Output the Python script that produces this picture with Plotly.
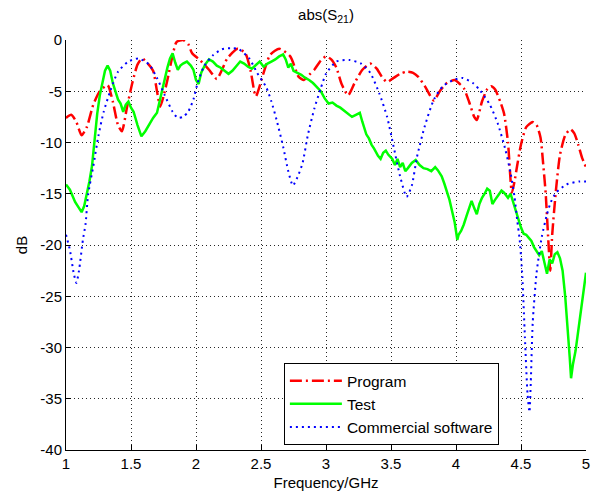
import plotly.graph_objects as go

# ---- data ----
prog_f = [1.00, 1.04, 1.08, 1.12, 1.16, 1.21, 1.26, 1.32, 1.36, 1.40, 1.43, 1.47, 1.51, 1.55,
          1.585, 1.63, 1.67, 1.70, 1.725, 1.75, 1.78, 1.82, 1.85, 1.90, 1.94, 1.97, 2.03, 2.10,
          2.16, 2.20, 2.24, 2.32, 2.38, 2.42, 2.46, 2.52, 2.57, 2.64, 2.725, 2.79, 2.83, 2.87,
          2.91, 2.96, 3.00, 3.04, 3.08, 3.12, 3.17, 3.22, 3.28, 3.34, 3.39, 3.43, 3.47, 3.52,
          3.57, 3.62, 3.67, 3.71, 3.76, 3.80, 3.83, 3.88, 3.93, 3.99, 4.03, 4.06, 4.10, 4.14,
          4.16, 4.20, 4.24, 4.27, 4.30, 4.34, 4.37, 4.40, 4.43, 4.45, 4.47, 4.50, 4.54, 4.59,
          4.62, 4.65, 4.67, 4.69, 4.71, 4.725, 4.74, 4.77, 4.80, 4.84, 4.88, 4.91, 4.94, 4.97, 5.00]
prog_db = [-7.6, -7.3, -8.0, -9.3, -8.5, -6.3, -5.0, -4.4, -6.0, -8.3, -8.9, -6.5, -4.2, -2.4,
           -1.8, -2.3, -3.0, -5.0, -6.5, -5.5, -3.9, -1.5, -0.2, 0.0, -0.4, -1.3, -1.95, -2.9,
           -3.8, -2.9, -1.8, -0.85, -1.3, -3.0, -5.5, -3.2, -1.45, -0.85, -1.6, -3.6, -3.9, -3.4,
           -2.9, -2.0, -1.6, -1.9, -2.7, -4.3, -5.4, -4.2, -2.9, -2.3, -2.8, -3.6, -4.1, -3.7,
           -3.3, -3.1, -3.2, -3.6, -4.5, -5.4, -5.9, -4.9, -4.2, -3.9, -4.3, -4.7, -6.0, -7.5,
           -7.8, -6.0, -4.8, -4.5, -4.8, -6.0, -7.2, -10.0, -14.9, -13.8, -12.3, -10.2, -8.5, -8.0,
           -8.3, -9.5, -12.0, -15.0, -19.5, -22.5, -19.0, -14.5, -11.2, -9.3, -8.7, -9.1, -10.2, -11.5, -12.4]

test_f = [1.00, 1.03, 1.07, 1.10, 1.12, 1.14, 1.16, 1.18, 1.20, 1.22, 1.24, 1.26, 1.28, 1.30,
          1.32, 1.34, 1.36, 1.38, 1.40, 1.42, 1.44, 1.46, 1.48, 1.50, 1.52, 1.55, 1.58, 1.61,
          1.64, 1.67, 1.70, 1.72, 1.74, 1.76, 1.78, 1.80, 1.82, 1.84, 1.86, 1.88, 1.90, 1.93,
          1.96, 1.98, 2.00, 2.02, 2.04, 2.07, 2.10, 2.13, 2.16, 2.19, 2.22, 2.25, 2.28, 2.31,
          2.34, 2.37, 2.40, 2.43, 2.46, 2.49, 2.52, 2.55, 2.58, 2.61, 2.64, 2.67, 2.69, 2.71,
          2.73, 2.75, 2.78, 2.81, 2.84, 2.87, 2.90, 2.93, 2.96, 2.99, 3.02, 3.05, 3.08, 3.11,
          3.14, 3.17, 3.20, 3.23, 3.26, 3.28, 3.31, 3.33, 3.35, 3.37, 3.40, 3.42, 3.44, 3.46,
          3.48, 3.51, 3.53, 3.55, 3.57, 3.59, 3.61, 3.63, 3.66, 3.69, 3.72, 3.75, 3.78, 3.81,
          3.84, 3.86, 3.89, 3.91, 3.93, 3.95, 3.97, 3.99, 4.01, 4.02, 4.04, 4.06, 4.08, 4.10,
          4.12, 4.14, 4.16, 4.18, 4.20, 4.22, 4.24, 4.26, 4.28, 4.30, 4.32, 4.35, 4.37, 4.40,
          4.42, 4.44, 4.46, 4.48, 4.50, 4.52, 4.54, 4.56, 4.58, 4.60, 4.62, 4.64, 4.66, 4.68,
          4.70, 4.72, 4.74, 4.76, 4.78, 4.80, 4.82, 4.84, 4.86, 4.875, 4.885, 4.90, 4.92, 4.94,
          4.96, 4.98, 5.00]
test_db = [-14.1, -14.6, -15.8, -16.4, -16.8, -16.2, -15.1, -13.8, -12.3, -9.5, -7.2, -5.4, -4.0, -3.0,
           -2.5, -3.0, -4.2, -5.1, -5.8, -6.2, -7.0, -6.3, -6.0, -6.6, -7.0, -8.3, -9.4, -8.9,
           -8.2, -7.6, -7.1, -6.0, -4.8, -3.6, -2.7, -1.8, -1.3, -2.2, -2.9, -2.5, -2.3, -2.1,
           -2.5, -2.9, -3.9, -4.3, -3.2, -2.4, -1.9, -2.1, -2.5, -2.7, -3.0, -3.3, -3.0, -2.5,
           -2.1, -2.3, -2.6, -2.8, -2.4, -2.1, -2.6, -2.3, -2.1, -1.9, -1.6, -1.4, -1.9, -2.7,
           -2.3, -3.0, -3.2, -3.4, -3.7, -3.9, -4.2, -4.6, -5.0, -5.7, -6.2, -6.1, -6.4, -6.6,
           -6.9, -7.2, -7.5, -7.3, -7.1, -8.0, -9.2, -9.6, -10.2, -10.6, -11.3, -11.6, -11.0, -10.8,
           -11.2, -11.6, -12.2, -11.6, -12.4, -12.0, -12.8, -12.5, -12.0, -11.7, -12.2, -12.5, -12.6, -12.8,
           -12.4, -12.7, -13.3, -14.0, -14.8, -15.6, -16.7, -17.8, -19.5, -19.0, -18.6, -18.0, -17.2, -16.5,
           -15.7, -16.4, -17.0, -16.0, -15.4, -15.0, -14.5, -14.7, -16.0, -15.6, -15.2, -14.7, -14.9, -15.4,
           -15.0, -15.8, -16.6, -17.6, -18.3, -18.9, -19.0, -19.3, -19.6, -20.2, -20.6, -21.0, -20.6, -21.8,
           -22.8, -21.4, -21.8, -20.9, -20.7, -21.3, -22.5, -25.0, -28.0, -31.0, -33.0, -31.6, -30.3, -28.5,
           -26.2, -24.6, -22.7]

comm_f = [1.00, 1.03, 1.06, 1.08, 1.10, 1.13, 1.15, 1.17, 1.21, 1.25, 1.29, 1.34, 1.40, 1.48,
          1.56, 1.64, 1.70, 1.76, 1.82, 1.86, 1.90, 1.94, 1.98, 2.01, 2.06, 2.13, 2.20, 2.27,
          2.33, 2.41, 2.47, 2.54, 2.58, 2.62, 2.67, 2.71, 2.745, 2.78, 2.82, 2.86, 2.91, 2.96,
          3.00, 3.08, 3.18, 3.27, 3.34, 3.41, 3.47, 3.52, 3.57, 3.62, 3.66, 3.70, 3.76, 3.83,
          3.90, 3.98, 4.05, 4.13, 4.19, 4.26, 4.32, 4.38, 4.42, 4.45, 4.47, 4.49, 4.51, 4.53,
          4.55, 4.565, 4.575, 4.59, 4.62, 4.66, 4.70, 4.73, 4.77, 4.85, 4.95, 5.00]
comm_db = [-19.0, -20.5, -22.8, -23.7, -22.5, -19.5, -18.0, -15.1, -12.3, -9.3, -7.0, -5.0, -3.1, -2.1,
           -1.8, -2.4, -3.7, -5.4, -7.0, -7.6, -7.5, -7.0, -5.8, -4.3, -2.6, -1.5, -0.9, -0.8,
           -0.9, -1.8, -3.2, -4.6, -6.0, -7.8, -10.4, -12.8, -14.2, -13.4, -12.0, -9.3, -6.7, -4.7,
           -3.3, -2.1, -1.95, -2.3, -3.2, -5.2, -7.5, -10.4, -13.3, -15.3, -14.2, -11.4, -8.4, -5.8,
           -4.5, -3.9, -3.7, -4.2, -5.0, -6.3, -8.1, -10.7, -13.0, -15.3, -17.5, -19.5, -23.0, -29.0,
           -34.5, -36.3, -33.5, -27.6, -22.7, -19.2, -17.0, -15.8, -14.9, -14.1, -13.8, -13.8]

series_names = ["Program", "Test", "Commercial software"]
x_ticks = [1, 1.5, 2, 2.5, 3, 3.5, 4, 4.5, 5]
y_ticks = [-40, -35, -30, -25, -20, -15, -10, -5, 0]

FONT = "Liberation Sans, Arial, sans-serif"

fig = go.Figure()
fig.add_trace(go.Scatter(x=prog_f, y=prog_db, mode="lines", name=series_names[0],
                         line=dict(color="#FF0000", width=2.5, dash="12px,4px,2px,4px",
                                   shape="spline", smoothing=0.6)))
fig.add_trace(go.Scatter(x=test_f, y=test_db, mode="lines", name=series_names[1],
                         line=dict(color="#00FF00", width=2.5)))
fig.add_trace(go.Scatter(x=comm_f, y=comm_db, mode="lines", name=series_names[2],
                         line=dict(color="#0000FF", width=2, dash="2px,4px",
                                   shape="spline", smoothing=0.6)))

axis_common = dict(
    showline=True, linecolor="black", linewidth=1, mirror=False,
    ticks="inside", ticklen=5, tickcolor="black", tickwidth=1,
    showgrid=True, gridcolor="rgba(0,0,0,0.85)", gridwidth=1, griddash="1px,3px",
    zeroline=False, tickfont=dict(family=FONT, size=15, color="black"),
    automargin=False,
)

fig.update_layout(
    width=598, height=491, autosize=False,
    margin=dict(l=66, r=12, t=40, b=41),
    paper_bgcolor="white", plot_bgcolor="white",
    font=dict(family=FONT, size=15, color="black"),
    title=dict(text="abs(S<sub>21</sub>)", x=0.5, xref="paper", y=1 - 15 / 491,
               yref="container", xanchor="center", yanchor="middle",
               font=dict(family=FONT, size=15, color="black")),
    xaxis=dict(range=[1, 5], tickvals=x_ticks, ticktext=[f"{v:g}" for v in x_ticks],
               title=dict(text="Frequency/GHz", standoff=14, font=dict(family=FONT, size=15)),
               **axis_common),
    yaxis=dict(range=[-40, 0], tickvals=y_ticks, ticktext=[f"{v:g}" for v in y_ticks],
               title=dict(text="dB", standoff=9, font=dict(family=FONT, size=15)),
               **axis_common),
    legend=dict(x=0.419, y=0.212, xanchor="left", yanchor="top",
                bgcolor="white", bordercolor="black", borderwidth=1,
                font=dict(family=FONT, size=15.5, color="black"),
                itemwidth=52, tracegroupgap=0),
    showlegend=True,
)

fig.write_html("out.html")
